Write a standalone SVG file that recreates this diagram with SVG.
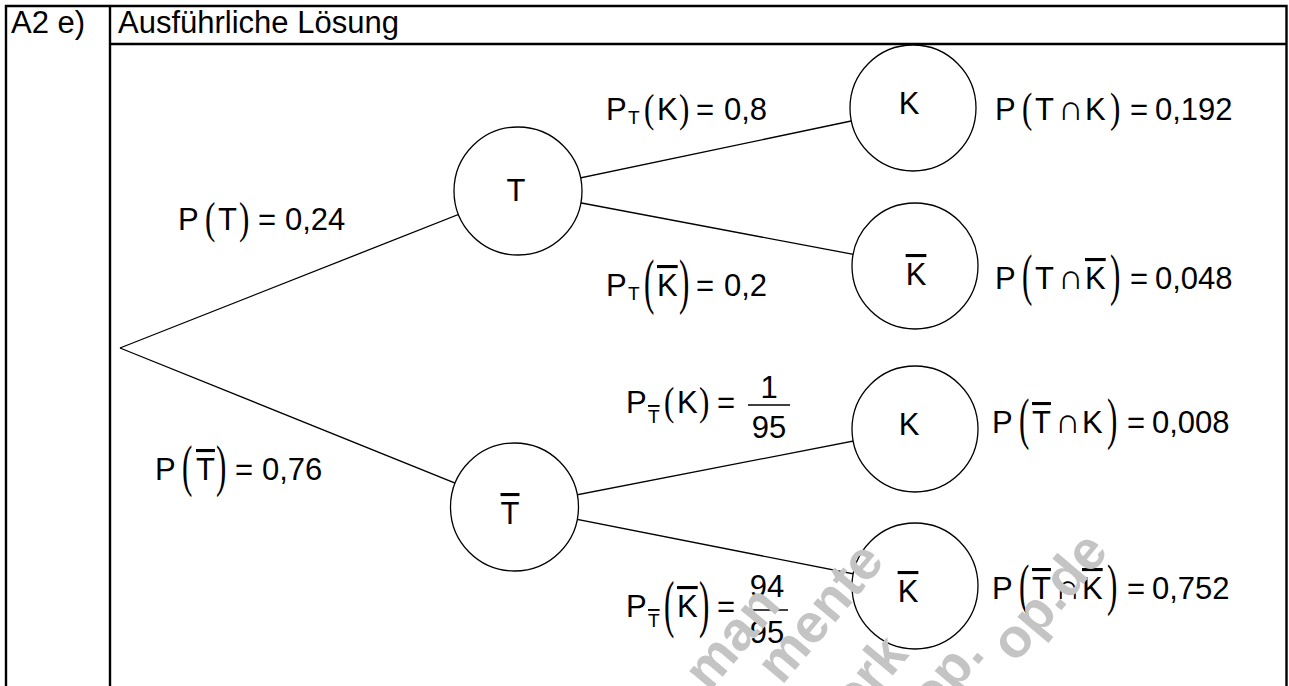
<svg xmlns="http://www.w3.org/2000/svg" width="1289" height="686" viewBox="0 0 1289 686">
<defs>
<style>
.t{font-family:"Liberation Sans",Arial,sans-serif;font-size:31px;fill:#000}
.s{font-size:19px}
.cap{font-size:35px}
.ob{text-decoration:overline}
.p{font-family:"Liberation Serif","Times New Roman",serif;font-size:31px;fill:#000}
.node{fill:#fff;stroke:#000;stroke-width:1.3}
.edge{stroke:#000;stroke-width:1.3;fill:none}
.frame{stroke:#000;stroke-width:2.4;fill:none}
.fr{stroke:#000;stroke-width:1.6}
.wm{font-family:"Liberation Sans",Arial,sans-serif;font-weight:bold;font-size:55px;fill:#c4c4c4}
</style>
</defs>
<rect width="1289" height="686" fill="#fff"/>
<g id="table">
<path class="frame" d="M6 700 V6 H1286.5 V700 M110 6 V700 M110 44 H1286.5"/>
<text class="t" x="11" y="33">A2 e)</text>
<text class="t" x="118" y="33">Ausführliche Lösung</text>
</g>
<g id="connectors" class="edge">
<line x1="120" y1="348" x2="518" y2="191"/>
<line x1="120" y1="348" x2="514.5" y2="507"/>
<line x1="518" y1="191" x2="913" y2="108"/>
<line x1="518" y1="191" x2="915" y2="266"/>
<line x1="514.5" y1="507" x2="915" y2="429"/>
<line x1="514.5" y1="507" x2="915" y2="586"/>
</g>
<g id="node-T"><circle class="node" cx="518" cy="191" r="64"/><text class="t" x="516" y="201" text-anchor="middle">T</text></g>
<g id="node-Tbar"><circle class="node" cx="514.5" cy="507" r="64"/><text class="t" x="510" y="524" text-anchor="middle"><tspan class="ob">T</tspan></text></g>
<g id="node-K1"><circle class="node" cx="913" cy="108" r="63"/><text class="t" x="909" y="114" text-anchor="middle">K</text></g>
<g id="node-Kbar2"><circle class="node" cx="915" cy="266" r="63"/><text class="t" x="916" y="285" text-anchor="middle"><tspan class="ob">K</tspan></text></g>
<g id="node-K3"><circle class="node" cx="915" cy="429" r="63"/><text class="t" x="909" y="435" text-anchor="middle">K</text></g>
<g id="node-Kbar4"><circle class="node" cx="915" cy="586" r="63"/><text class="t" x="908" y="602" text-anchor="middle"><tspan class="ob">K</tspan></text></g>

<g id="label-PT">
<text class="t" y="230"><tspan x="178">P</tspan><tspan x="218">T</tspan><tspan x="258">=</tspan><tspan x="285">0,24</tspan></text>
<text class="p" transform="translate(205,222) scale(1,1.4)" y="7.7">(</text>
<text class="p" transform="translate(239,222) scale(1,1.4)" y="7.7">)</text>
</g>
<g id="label-PTbar">
<text class="t" y="480"><tspan x="155">P</tspan><tspan x="196" class="ob">T</tspan><tspan x="235">=</tspan><tspan x="262">0,76</tspan></text>
<text class="p" transform="translate(182,471) scale(1,1.85)" y="7.7">(</text>
<text class="p" transform="translate(216,471) scale(1,1.85)" y="7.7">)</text>
</g>

<g id="label-PT-K">
<text class="t" y="120"><tspan x="606">P</tspan><tspan class="s" x="628" y="124">T</tspan><tspan x="657" y="120">K</tspan><tspan x="696">=</tspan><tspan x="724">0,8</tspan></text>
<text class="p" transform="translate(644,112) scale(1,1.3)" y="7.7">(</text>
<text class="p" transform="translate(679,112) scale(1,1.3)" y="7.7">)</text>
</g>
<g id="label-PT-Kbar">
<text class="t" y="296"><tspan x="606">P</tspan><tspan class="s" x="628" y="300">T</tspan><tspan x="657" y="296" class="ob">K</tspan><tspan x="696">=</tspan><tspan x="724">0,2</tspan></text>
<text class="p" transform="translate(644,287) scale(1,2)" y="7.7">(</text>
<text class="p" transform="translate(679,287) scale(1,2)" y="7.7">)</text>
</g>
<g id="label-PTbar-K">
<text class="t" y="413"><tspan x="626">P</tspan><tspan class="s ob" x="648" y="423">T</tspan><tspan x="677" y="413">K</tspan><tspan x="717">=</tspan></text>
<text class="p" transform="translate(664,405) scale(1,1.3)" y="7.7">(</text>
<text class="p" transform="translate(699,405) scale(1,1.3)" y="7.7">)</text>
<line class="fr" x1="748" y1="405" x2="790" y2="405"/>
<text class="t" x="769" y="398" text-anchor="middle">1</text>
<text class="t" x="769" y="438" text-anchor="middle">95</text>
</g>
<g id="label-PTbar-Kbar">
<text class="t" y="617"><tspan x="626">P</tspan><tspan class="s ob" x="648" y="627">T</tspan><tspan x="677" y="617" class="ob">K</tspan><tspan x="717">=</tspan></text>
<text class="p" transform="translate(664,609) scale(1,2.05)" y="7.7">(</text>
<text class="p" transform="translate(699,609) scale(1,2.05)" y="7.7">)</text>
<line class="fr" x1="746" y1="610" x2="788" y2="610"/>
<text class="t" x="767" y="597" text-anchor="middle">94</text>
<text class="t" x="767" y="643" text-anchor="middle">95</text>
</g>

<g id="label-P-TK">
<text class="t" y="120"><tspan x="995">P</tspan><tspan x="1035">T</tspan><tspan class="cap" x="1058">∩</tspan><tspan x="1085">K</tspan><tspan x="1130">=</tspan><tspan x="1155">0,192</tspan></text>
<text class="p" transform="translate(1022,112) scale(1,1.35)" y="7.7">(</text>
<text class="p" transform="translate(1110,112) scale(1,1.35)" y="7.7">)</text>
</g>
<g id="label-P-TKbar">
<text class="t" y="289"><tspan x="995">P</tspan><tspan x="1035">T</tspan><tspan class="cap" x="1058">∩</tspan><tspan x="1085" class="ob">K</tspan><tspan x="1130">=</tspan><tspan x="1155">0,048</tspan></text>
<text class="p" transform="translate(1022,280) scale(1,1.85)" y="7.7">(</text>
<text class="p" transform="translate(1110,280) scale(1,1.85)" y="7.7">)</text>
</g>
<g id="label-P-TbarK">
<text class="t" y="433"><tspan x="992">P</tspan><tspan x="1032" class="ob">T</tspan><tspan class="cap" x="1055">∩</tspan><tspan x="1082">K</tspan><tspan x="1127">=</tspan><tspan x="1152">0,008</tspan></text>
<text class="p" transform="translate(1019,424) scale(1,1.85)" y="7.7">(</text>
<text class="p" transform="translate(1107,424) scale(1,1.85)" y="7.7">)</text>
</g>
<g id="label-P-TbarKbar">
<text class="t" y="599"><tspan x="992">P</tspan><tspan x="1032" class="ob">T</tspan><tspan class="cap" x="1055">∩</tspan><tspan x="1082" class="ob">K</tspan><tspan x="1127">=</tspan><tspan x="1152">0,752</tspan></text>
<text class="p" transform="translate(1019,590) scale(1,1.85)" y="7.7">(</text>
<text class="p" transform="translate(1107,590) scale(1,1.85)" y="7.7">)</text>
</g>

<g id="watermark" class="wm">
<text transform="rotate(-50 782 606)" x="782" y="606" text-anchor="end">man</text>
<text transform="rotate(-50 886 562)" x="886" y="562" text-anchor="end">mente</text>
<text transform="rotate(-50 910 655)" x="910" y="655" text-anchor="end">erk</text>
<text transform="rotate(-50 986 655)" x="986" y="655" text-anchor="end">op.</text>
<text transform="rotate(-50 1110 552)" x="1110" y="552" text-anchor="end">op.de</text>
</g>
</svg>
